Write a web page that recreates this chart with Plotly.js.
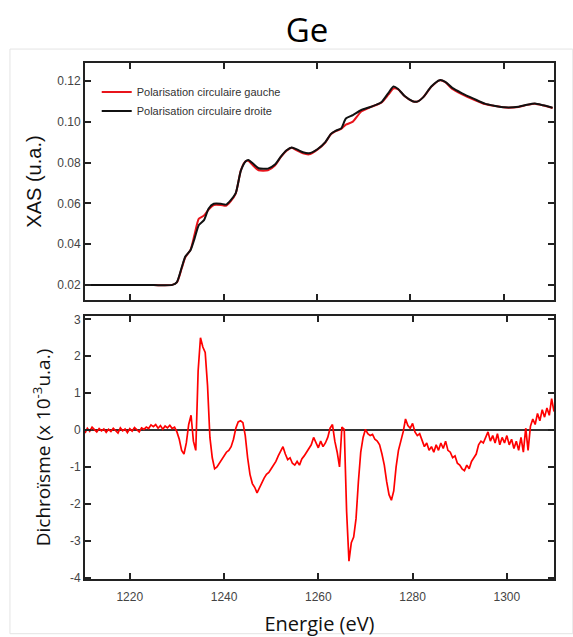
<!DOCTYPE html>
<html>
<head>
<meta charset="utf-8">
<script src="https://cdn.plot.ly/plotly-3.0.1.min.js"></script>
<style>html,body{margin:0;padding:0;background:#fff;}#chart{width:573px;height:637px;}</style>
</head>
<body>
<div id="chart"></div>
<script>
// XAS spectra (energy in eV, absorption in u.a.)
const xasEnergy = [1210.5,1215,1220,1225,1229,1230,1231,1231.8,1232.9,1233.8,
  1234.7,1235.8,1236.8,1237.9,1239.4,1240.5,1241.5,1242.6,1243.7,1244.7,
  1245.3,1246.3,1247.5,1249.5,1251,1252.3,1253.5,1254.6,1255.8,1257,
  1258.3,1260.1,1261.8,1263,1264,1265.2,1266.2,1267.7,1269.5,1271.6,
  1273.8,1275.3,1276.4,1277.4,1278.8,1280.5,1281.5,1282.8,1284.5,1286.3,
  1287.5,1289,1291,1293.8,1296,1298,1300.3,1303.2,1305,1306.7,
  1308.5,1310.5];
const xasDroite = [0.0200,0.0200,0.0200,0.0200,0.0201,0.0215,0.0285,0.0340,0.0371,0.0430,
  0.0494,0.0518,0.0575,0.0598,0.0598,0.0594,0.0615,0.0650,0.0760,0.0805,
  0.0812,0.0795,0.0772,0.0770,0.0790,0.0830,0.0860,0.0874,0.0863,0.0850,
  0.0845,0.0865,0.0900,0.0940,0.0955,0.0967,0.1015,0.1032,0.1057,0.1073,
  0.1095,0.1140,0.1172,0.1160,0.1125,0.1100,0.1098,0.1120,0.1172,0.1203,
  0.1195,0.1165,0.1140,0.1110,0.1088,0.1078,0.1070,0.1073,0.1083,0.1089,
  0.1080,0.1068];
const xasGauche = [0.0200,0.0200,0.0200,0.0200,0.0201,0.0213,0.0280,0.0336,0.0372,0.0450,
  0.0525,0.0540,0.0570,0.0592,0.0592,0.0588,0.0610,0.0648,0.0762,0.0806,
  0.0808,0.0785,0.0762,0.0762,0.0785,0.0828,0.0858,0.0872,0.0858,0.0845,
  0.0840,0.0863,0.0898,0.0938,0.0953,0.0965,0.0985,0.1000,0.1050,0.1072,
  0.1093,0.1132,0.1162,0.1158,0.1124,0.1100,0.1098,0.1120,0.1170,0.1202,
  0.1193,0.1160,0.1135,0.1106,0.1086,0.1077,0.1069,0.1072,0.1082,0.1088,
  0.1079,0.1067];

// Dichroism (x 10^-3 u.a.)
const dichroEnergy = [
  1210.5,1211,1211.5,1212,1212.5,1213,1213.5,1214,1214.5,1215,
  1215.5,1216,1216.5,1217,1217.5,1218,1218.5,1219,1219.5,1220,
  1220.5,1221,1221.5,1222,1222.5,1223,1223.5,1224,1224.5,1225,
  1225.5,1226,1226.5,1227,1227.5,1228,1228.5,1229,1229.5,1230,
  1230.5,1231,1231.5,1232,1232.5,1233,1233.5,1234,1234.5,1235,
  1235.5,1236,1236.5,1237,1237.5,1238,1238.5,1239,1239.5,1240,
  1240.5,1241,1241.5,1242,1242.5,1243,1243.5,1244,1244.5,1245,
  1245.5,1246,1246.5,1247,1247.5,1248,1248.5,1249,1249.5,1250,
  1250.5,1251,1251.5,1252,1252.5,1253,1253.5,1254,1254.5,1255,
  1255.5,1256,1256.5,1257,1257.5,1258,1258.5,1259,1259.5,1260,
  1260.5,1261,1261.5,1262,1262.5,1263,1263.5,1264,1264.5,1265,
  1265.5,1266,1266.5,1267,1267.5,1268,1268.5,1269,1269.5,1270,
  1270.5,1271,1271.5,1272,1272.5,1273,1273.5,1274,1274.5,1275,
  1275.5,1276,1276.5,1277,1277.5,1278,1278.5,1279,1279.5,1280,
  1280.5,1281,1281.5,1282,1282.5,1283,1283.5,1284,1284.5,1285,
  1285.5,1286,1286.5,1287,1287.5,1288,1288.5,1289,1289.5,1290,
  1290.5,1291,1291.5,1292,1292.5,1293,1293.5,1294,1294.5,1295,
  1295.5,1296,1296.5,1297,1297.5,1298,1298.5,1299,1299.5,1300,
  1300.5,1301,1301.5,1302,1302.5,1303,1303.5,1304,1304.5,1305,
  1305.5,1306,1306.5,1307,1307.5,1308,1308.5,1309,1309.5,1310];
const dichroValues = [
  -0.08,0.05,-0.03,0.08,0.01,-0.05,0.04,-0.02,0.03,-0.06,
  0.02,-0.04,0.05,-0.01,-0.08,0.06,-0.02,0.03,-0.07,0.04,
  -0.03,0.07,0.00,-0.05,0.06,0.02,0.08,0.04,0.14,0.09,
  0.15,0.05,0.12,0.02,0.11,0.06,0.13,0.04,0.08,-0.05,
  -0.25,-0.55,-0.65,-0.35,0.15,0.40,-0.30,-0.55,1.60,2.50,
  2.25,2.10,1.20,-0.20,-0.75,-1.05,-1.00,-0.90,-0.80,-0.72,
  -0.60,-0.55,-0.45,-0.25,0.05,0.22,0.25,0.20,-0.15,-0.75,
  -1.20,-1.45,-1.55,-1.70,-1.55,-1.40,-1.30,-1.20,-1.15,-1.05,
  -0.95,-0.85,-0.70,-0.55,-0.45,-0.65,-0.80,-0.75,-0.90,-0.95,
  -0.85,-0.95,-0.78,-0.70,-0.60,-0.50,-0.40,-0.20,-0.35,-0.48,
  -0.30,-0.45,-0.35,-0.20,0.05,0.15,-0.30,-0.60,-1.00,0.08,
  0.02,-2.20,-3.55,-3.05,-2.90,-2.40,-1.40,-0.60,-0.20,0.02,
  -0.10,-0.15,-0.12,-0.25,-0.30,-0.40,-0.65,-0.95,-1.40,-1.75,
  -1.90,-1.65,-1.00,-0.55,-0.30,-0.05,0.30,0.12,0.05,0.18,
  -0.05,-0.15,-0.10,-0.30,-0.45,-0.35,-0.55,-0.45,-0.60,-0.40,
  -0.55,-0.35,-0.50,-0.30,-0.55,-0.60,-0.75,-0.70,-0.90,-0.95,
  -1.05,-1.10,-0.95,-1.05,-0.85,-0.75,-0.65,-0.40,-0.30,-0.35,
  -0.20,-0.05,-0.30,-0.15,-0.35,-0.10,-0.40,-0.20,-0.35,-0.15,
  -0.40,-0.25,-0.50,-0.30,-0.55,-0.20,-0.60,0.05,-0.55,0.10,
  0.30,0.15,0.45,0.25,0.55,0.35,0.60,0.40,0.85,0.50];

const seriesNames = ['Polarisation circulaire gauche', 'Polarisation circulaire droite'];
const chartTitle = 'Ge';
const xTicks = [1220, 1240, 1260, 1280, 1300];
const xasTicks = [0.02, 0.04, 0.06, 0.08, 0.10, 0.12];
const dichroTicks = [-4, -3, -2, -1, 0, 1, 2, 3];
const dichroTickText = ['-4', '-3', '-2', '-1', '0', '1', '2', '3'];

const tickFont = {family: 'Liberation Sans, Arial, sans-serif', size: 12, color: '#444'};
const frame = {showline: true, linecolor: '#222', linewidth: 2, mirror: 'ticks',
  ticks: 'inside', ticklen: 6, tickwidth: 2, tickcolor: '#222', showgrid: false, zeroline: false};

const traces = [
  {x: xasEnergy, y: xasGauche, name: seriesNames[0], type: 'scatter', mode: 'lines',
   line: {color: '#e8141b', width: 2, shape: 'spline', smoothing: 0.6}, xaxis: 'x', yaxis: 'y'},
  {x: xasEnergy, y: xasDroite, name: seriesNames[1], type: 'scatter', mode: 'lines',
   line: {color: '#111', width: 2, shape: 'spline', smoothing: 0.6}, xaxis: 'x', yaxis: 'y'},
  {x: dichroEnergy, y: dichroValues, name: 'Dichroïsme', type: 'scatter', mode: 'lines',
   line: {color: '#ff0000', width: 1.7}, xaxis: 'x2', yaxis: 'y2', showlegend: false}
];

const layout = {
  width: 573, height: 637,
  margin: {l: 85, r: 19, t: 63, b: 58},
  paper_bgcolor: '#fff', plot_bgcolor: '#fff',
  title: {text: chartTitle, x: 0.536, xanchor: 'center', y: 0.952, yanchor: 'middle',
    font: {family: 'Open Sans, sans-serif', size: 33, color: '#000'}},
  showlegend: true,
  legend: {x: 0.025, y: 0.972, xanchor: 'left', yanchor: 'top', bgcolor: 'rgba(0,0,0,0)',
    font: {family: 'Liberation Sans, Arial, sans-serif', size: 11, color: '#333'},
    tracegroupgap: 0, itemwidth: 30},
  xaxis: Object.assign({}, frame, {domain: [0, 1], anchor: 'y', range: [1210.3, 1310.8],
    tickvals: xTicks, showticklabels: false}),
  yaxis: Object.assign({}, frame, {domain: [0.5407, 1], anchor: 'x', range: [0.0127, 0.1287],
    tickvals: xasTicks, tickformat: '.2f', tickfont: tickFont,
    title: {text: 'XAS (u.a.)', standoff: 10, font: {family: 'Liberation Sans, Arial, sans-serif', size: 20, color: '#111'}}}),
  xaxis2: Object.assign({}, frame, {domain: [0, 1], anchor: 'y2', range: [1210.5, 1310],
    tickvals: xTicks, tickfont: tickFont, ticklabelstandoff: 6,
    title: {text: 'Energie (eV)', standoff: 14, font: {family: 'Open Sans, sans-serif', size: 20, color: '#111'}}}),
  yaxis2: Object.assign({}, frame, {domain: [0, 0.5097], anchor: 'x2', range: [-4.035, 3.09],
    tickvals: dichroTicks, ticktext: dichroTickText, tickfont: tickFont,
    zeroline: true, zerolinecolor: '#333', zerolinewidth: 2,
    title: {text: 'Dichroïsme (x 10<sup>-3</sup>u.a.)', standoff: 14, font: {family: 'Open Sans, sans-serif', size: 19, color: '#111'}}}),
  shapes: [
    {type: 'rect', xref: 'paper', yref: 'paper', x0: -0.16, x1: 1.04, y0: -0.106, y1: 1.027,
     line: {color: '#e4e4e4', width: 1}, fillcolor: 'rgba(0,0,0,0)', layer: 'below'}
  ]
};

Plotly.newPlot('chart', traces, layout, {displayModeBar: false, staticPlot: true});
</script>
</body>
</html>
